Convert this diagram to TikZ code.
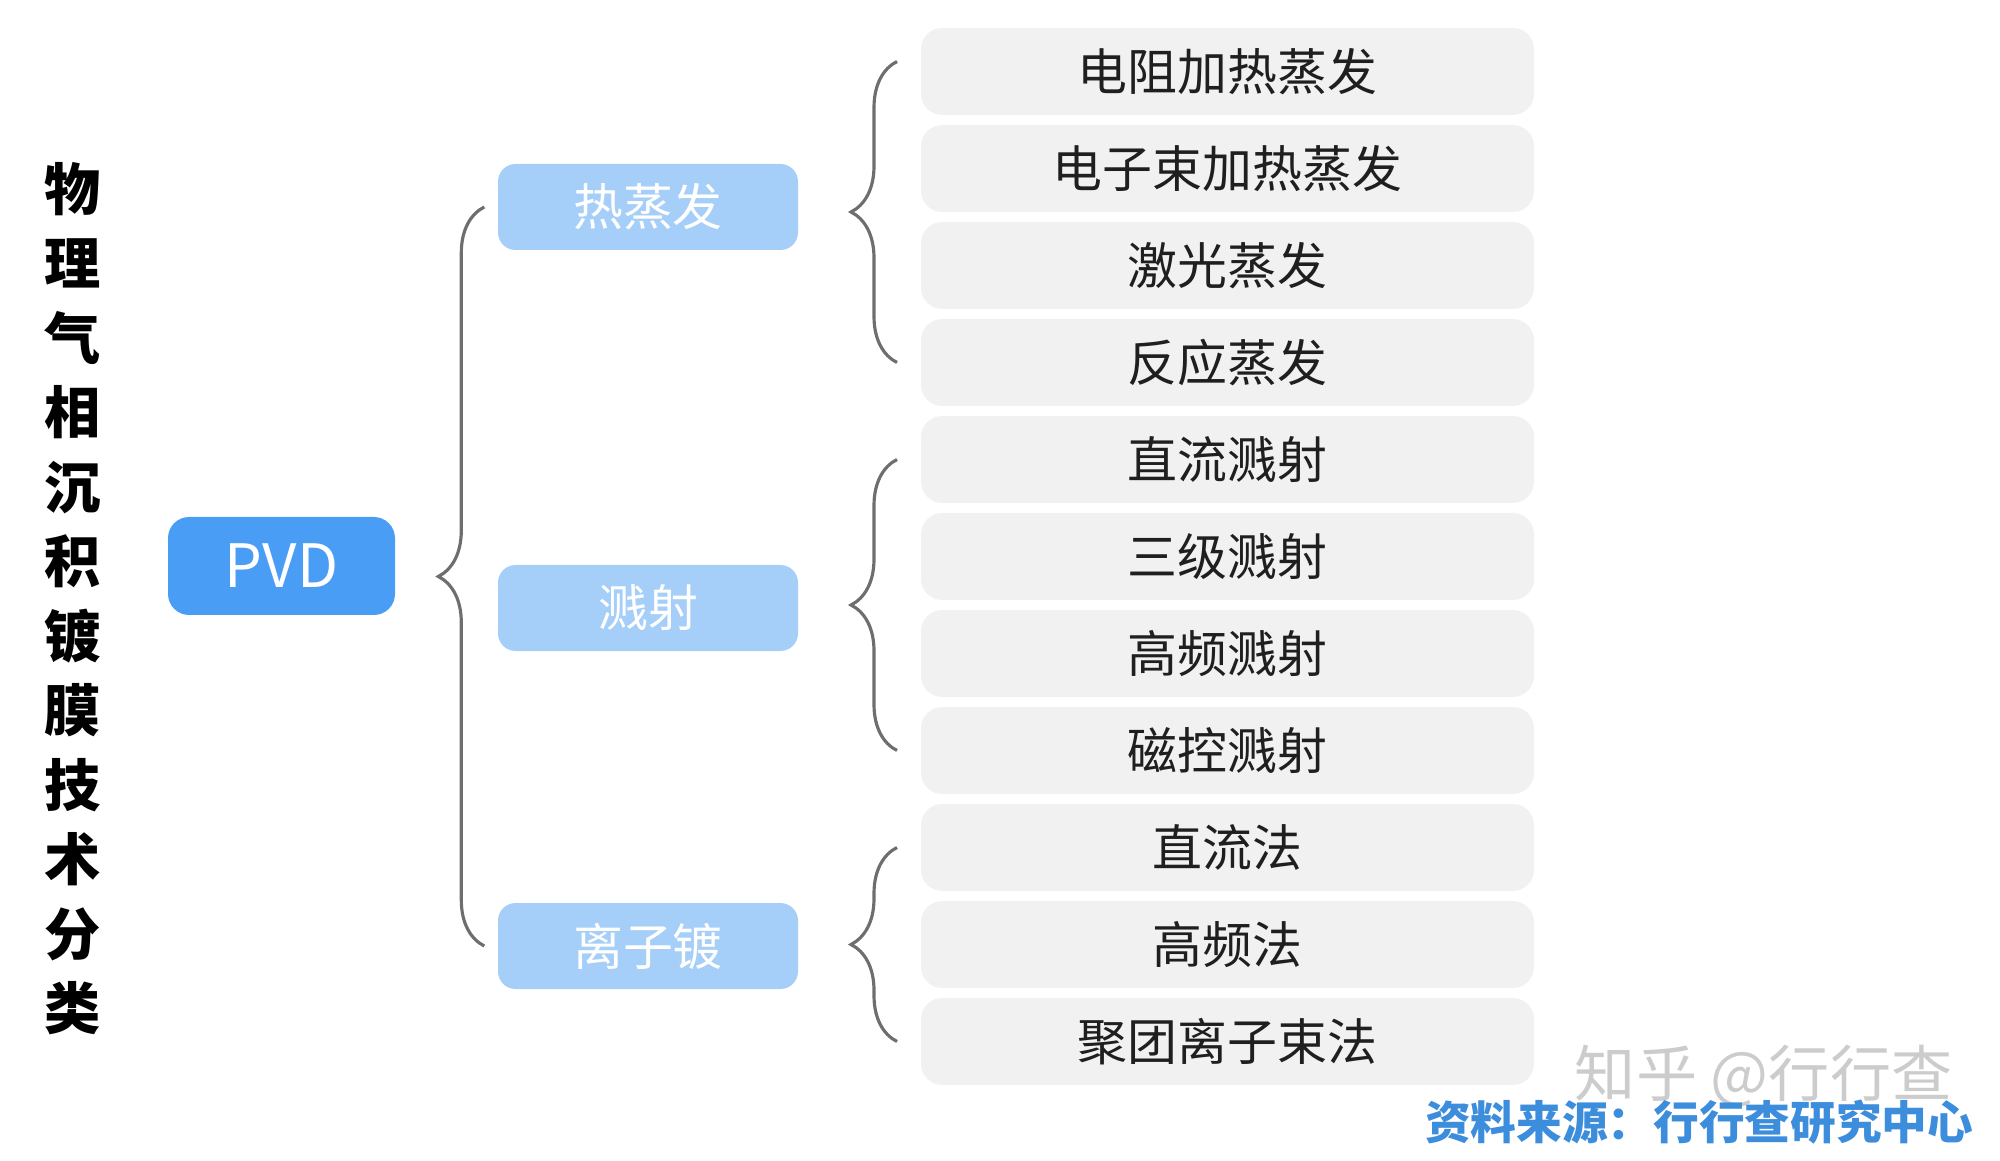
\documentclass[tikz,border=0pt]{standalone}
\usepackage{fontspec}
\setmainfont{Noto Sans CJK SC}
\usepackage{xcolor}
\usepackage{tikz}
\usetikzlibrary{positioning,decorations.pathreplacing,calc}

\definecolor{pvdblue}{HTML}{4A9DF5}
\definecolor{catblue}{HTML}{A5CFF8}
\definecolor{leafgray}{HTML}{F1F1F1}
\definecolor{bracegray}{HTML}{6E6E6E}
\definecolor{srcblue}{HTML}{3D8DDD}

\begin{document}
\begin{tikzpicture}[
  root/.style={fill=pvdblue, rounded corners=6pt, inner ysep=0pt, minimum width=2.27cm, minimum height=0.98cm, text=white, font=\fontsize{17pt}{20pt}\selectfont},
  cat/.style={fill=catblue, rounded corners=5pt, inner ysep=0pt, minimum width=3.0cm, minimum height=0.86cm, text=white, font=\fontsize{14.2pt}{17pt}\selectfont},
  leaf/.style={fill=leafgray, rounded corners=6pt, inner ysep=0pt, outer sep=0pt, minimum width=6.13cm, minimum height=0.87cm, text=black!88, font=\fontsize{14.2pt}{17pt}\selectfont},
  curly/.style={draw=bracegray, line width=0.9pt, decorate, decoration={brace, amplitude=0.46cm}},
]
\useasboundingbox (0,0) rectangle (20,-11.61);

% Title
\node[font=\bfseries\fontsize{16pt}{21.2pt}\selectfont, align=center] (title) at (0.73,-5.985)
  {物\\理\\气\\相\\沉\\积\\镀\\膜\\技\\术\\分\\类};

% Nodes
\node[root] (pvd) at (2.815,-5.66) {PVD};

\node[cat] (hot) at (6.48,-2.07) {热蒸发};
\node[cat] (sput) at (6.48,-6.08) {溅射};
\node[cat] (ion) at (6.48,-9.46) {离子镀};

\node[leaf] (l1) at (12.275,-0.715) {电阻加热蒸发};
\node[leaf, below=0.1cm of l1] (l2) {电子束加热蒸发};
\node[leaf, below=0.1cm of l2] (l3) {激光蒸发};
\node[leaf, below=0.1cm of l3] (l4) {反应蒸发};
\node[leaf, below=0.1cm of l4] (l5) {直流溅射};
\node[leaf, below=0.1cm of l5] (l6) {三级溅射};
\node[leaf, below=0.1cm of l6] (l7) {高频溅射};
\node[leaf, below=0.1cm of l7] (l8) {磁控溅射};
\node[leaf, below=0.1cm of l8] (l9) {直流法};
\node[leaf, below=0.1cm of l9] (l10) {高频法};
\node[leaf, below=0.1cm of l10] (l11) {聚团离子束法};

% Braces
\coordinate (b0top) at ([xshift=-0.13cm]hot.west);
\coordinate (b0bot) at ([xshift=-0.13cm]ion.west);
\coordinate (b1top) at ([xshift=-0.24cm,yshift=0.1cm]l1.west);
\coordinate (b1bot) at ([xshift=-0.24cm]l4.west);
\coordinate (b2top) at ([xshift=-0.24cm]l5.west);
\coordinate (b2bot) at ([xshift=-0.24cm]l8.west);
\coordinate (b3top) at ([xshift=-0.24cm]l9.west);
\coordinate (b3bot) at ([xshift=-0.24cm]l11.west);
\draw[curly] (b0bot) -- (b0top);
\draw[curly] (b1bot) -- (b1top);
\draw[curly] (b2bot) -- (b2top);
\draw[curly] (b3bot) -- (b3top);

% Source
\node[anchor=east, inner sep=0pt, text=gray!40, font=\fontsize{17.4pt}{20pt}\selectfont] (mark) at (19.53,-10.76) {知乎 @行行查};
\node[anchor=east, inner sep=0pt, text=srcblue, font=\bfseries\fontsize{13pt}{15pt}\selectfont] (src) at (19.74,-11.22) {资料来源：行行查研究中心};

\end{tikzpicture}
\end{document}
